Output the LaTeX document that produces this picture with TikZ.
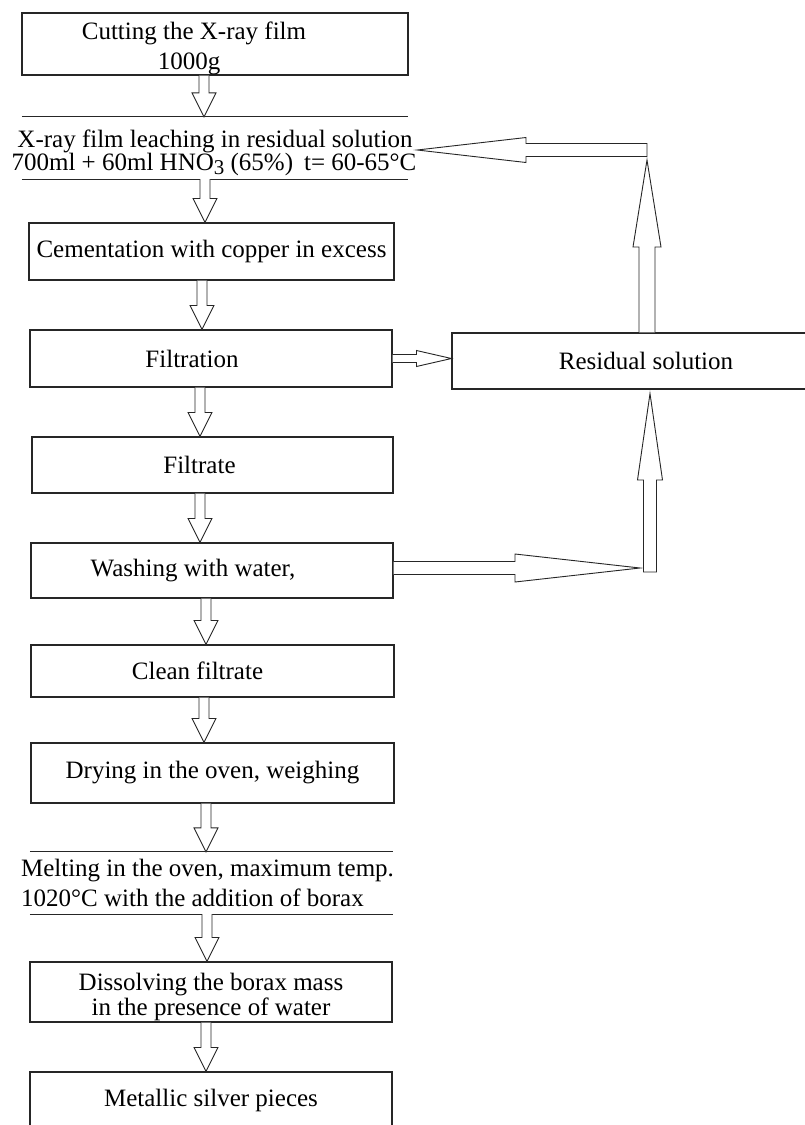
\documentclass[tikz,border=0pt]{standalone}
\usepackage{fontspec}
\setmainfont{Liberation Serif}
\usetikzlibrary{calc}
\newcommand\fs{\fontsize{25}{25}\selectfont}
\tikzset{
  x=1pt, y=-1pt,
  box/.style={draw=black!85, line width=1.1pt, rectangle, inner sep=0pt, font=\fs, align=center},
  openbox/.style={rectangle, inner sep=0pt, font=\fs, align=center},
  rule/.style={draw=black!85, line width=1.1pt},
  blk/.style={draw=black!85, line width=0.9pt, fill=white, line join=miter},
}
\newcommand\dblk[3]{%
  \draw[blk] let \p0=(#3,0), \p1=(#1.south), \p2=(#2.north) in
    (\x0-5pt,\y1) -- (\x0-5pt,\y2+24pt) -- (\x0-12pt,\y2+24pt) -- (\x0,\y2)
    -- (\x0+12pt,\y2+24pt) -- (\x0+5pt,\y2+24pt) -- (\x0+5pt,\y1);}
\begin{document}
\begin{tikzpicture}
\useasboundingbox (0,0) rectangle (805,1125);
\clip (0,0) rectangle (805,1125);
\fill[white] (0,0) rectangle (805,1125);

% main column
\node[box, minimum width=386pt, minimum height=62pt] (cut) at (215,44)
  {\rule{0pt}{26pt}\hspace*{-42pt}Cutting the X-ray film\\[5pt]\hspace*{-52pt}1000g};
\node[openbox, minimum width=386pt, minimum height=62pt, font=\fontsize{25}{23}\selectfont] (lea) at (215,148)
  {\makebox[386pt][c]{\rule{0pt}{28pt}X-ray film leaching in residual solution}\\
   \makebox[386pt][c]{\hspace*{-2pt}700ml + 60ml HNO{\fontsize{21}{21}\selectfont\raisebox{-4pt}{3}} (65\%)\hspace{11pt}t= 60-65°C}};
\draw[rule] (lea.north west) -- (lea.north east);
\draw[rule] (lea.south west) -- (lea.south east);
\node[box, minimum width=365pt, minimum height=57pt] (cem) at (211.5,251.5)
  {Cementation with copper in excess};
\node[box, minimum width=362pt, minimum height=57pt] (filt) at (211,358.5)
  {\hspace*{-38pt}Filtration};
\node[box, minimum width=361pt, minimum height=56pt] (filtr) at (212.5,465)
  {\hspace*{-26pt}Filtrate};
\node[box, minimum width=362pt, minimum height=55pt] (wash) at (212,570.5)
  {\hspace*{-38pt}Washing with water,};
\node[box, minimum width=363pt, minimum height=52pt] (clean) at (212.5,671)
  {\hspace*{-30pt}Clean filtrate};
\node[box, minimum width=363pt, minimum height=60pt] (dry) at (212.5,773)
  {Drying in the oven, weighing};
\node[openbox, minimum width=363pt, minimum height=62pt, font=\fontsize{25}{30}\selectfont] (melt) at (211.5,883)
  {\makebox[363pt][c]{\hspace*{-8pt}Melting in the oven, maximum temp.}\\
   \makebox[363pt][c]{\hspace*{-38pt}1020°C with the addition of borax}};
\draw[rule] (melt.north west) -- (melt.north east);
\draw[rule] (melt.south west) -- (melt.south east);
\node[box, minimum width=362pt, minimum height=60pt, font=\fontsize{25}{25}\selectfont] (diss) at (211,992)
  {\rule{0pt}{27pt}Dissolving the borax mass\\in the presence of water};
\node[box, minimum width=362pt, minimum height=63pt] (metal) at (211,1103.5)
  {\raisebox{12pt}{Metallic silver pieces}};

% side box
\node[box, minimum width=378pt, minimum height=56pt] (res) at (641,361)
  {\hspace*{10pt}Residual solution};

\coordinate (corner) at (647,150);
\coordinate (corner2) at (650,568);

% down arrows
\dblk{cut}{lea}{204}
\dblk{lea}{cem}{205}
\dblk{cem}{filt}{202}
\dblk{filt}{filtr}{200}
\dblk{filtr}{wash}{200}
\dblk{wash}{clean}{206}
\dblk{clean}{dry}{204}
\dblk{dry}{melt}{206}
\dblk{melt}{diss}{207}
\dblk{diss}{metal}{206}

% filtration -> residual solution
\draw[blk] let \p1=(filt.east), \p2=(res.west) in
  (\x1,\y1+4pt) -- (\x2-35pt,\y1+4pt) -- (\x2-35pt,\y1+8pt) -- (\x2,\y1)
  -- (\x2-35pt,\y1-8pt) -- (\x2-35pt,\y1-4pt) -- (\x1,\y1-4pt);

% residual solution -> up -> leaching
\draw[blk] let \p0=(corner), \p1=(res.north) in
  (\x0-8pt,\y1) -- (\x0-8pt,\y0-97pt) -- (\x0-14pt,\y0-97pt) -- (\x0,\y0-10pt)
  -- (\x0+14pt,\y0-97pt) -- (\x0+8pt,\y0-97pt) -- (\x0+8pt,\y1);
\draw[blk] let \p0=(corner), \p2=(lea.east) in
  (\x2+9pt,\y0) -- (\x0-121pt,\y0+12.5pt) -- (\x0-121pt,\y0+6.5pt) -- (\x0,\y0+6.5pt)
  -- (\x0,\y0-6.5pt) -- (\x0-121pt,\y0-6.5pt) -- (\x0-121pt,\y0-12.5pt) -- cycle;

% washing -> right -> up to residual solution
\draw[blk] let \p0=(corner2), \p1=(wash.east) in
  (\x1,\y0+6.5pt) -- (\x0-135pt,\y0+6.5pt) -- (\x0-135pt,\y0+14pt) -- (\x0-10pt,\y0)
  -- (\x0-135pt,\y0-14pt) -- (\x0-135pt,\y0-6.5pt) -- (\x1,\y0-6.5pt);
\draw[blk] let \p0=(corner2), \p2=(res.south) in
  (\x0-6.5pt,\y0-4pt) -- (\x0-6.5pt,\y0+88pt) -- (\x0-12.5pt,\y0+88pt) -- (\x0,\y2-4pt)
  -- (\x0+12.5pt,\y0+88pt) -- (\x0+6.5pt,\y0+88pt) -- (\x0+6.5pt,\y0-4pt) -- cycle;
\end{tikzpicture}
\end{document}
